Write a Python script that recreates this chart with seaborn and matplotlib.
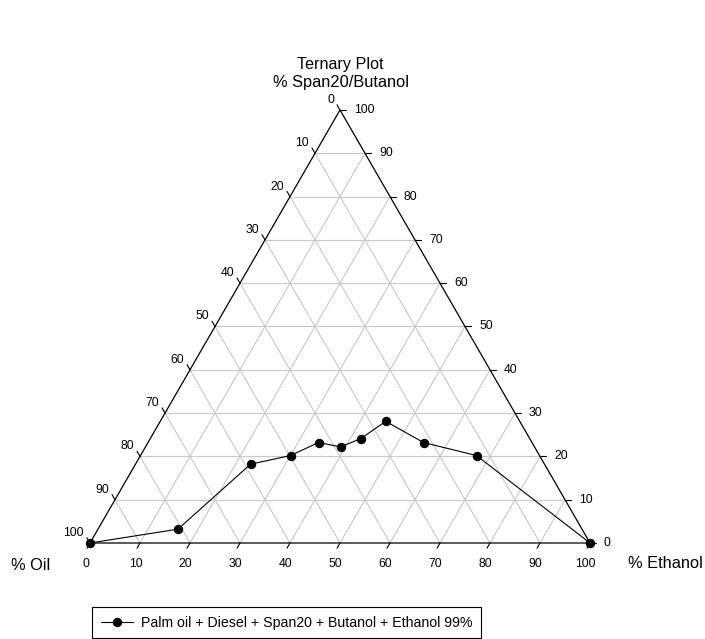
import numpy as np
import pandas as pd
import matplotlib
matplotlib.use("Agg")
import matplotlib.pyplot as plt
import seaborn as sns

sns.set_theme(style="white")
plt.rcParams["font.family"] = ["Liberation Sans", "DejaVu Sans"]
plt.rcParams["text.color"] = "black"

# Phase boundary composition (percent)
ethanol = [0.0, 16.0, 23.0, 30.0, 34.1, 39.0, 42.1, 45.1, 55.1, 67.2, 100.0]
span_butanol = [0.0, 3.2, 18.2, 20.2, 23.2, 22.2, 24.1, 28.1, 23.2, 20.2, 0.0]
oil = [100.0 - e - s for e, s in zip(ethanol, span_butanol)]
series_name = "Palm oil + Diesel + Span20 + Butanol + Ethanol 99%"
tick_values = list(range(0, 101, 10))

H = np.sqrt(3) / 2


def to_xy(e, s):
    """Ternary (ethanol, span) percent -> cartesian."""
    e = np.asarray(e, dtype=float)
    s = np.asarray(s, dtype=float)
    return e + s / 2.0, s * H


W, Hpx = 705, 639
fig = plt.figure(figsize=(W / 100, Hpx / 100), dpi=100)
ax = fig.add_axes([0, 0, 1, 1])
# 5 px per percent unit; triangle base from px 90 to 590 at py 543
ax.set_xlim(-90 / 5, (W - 90) / 5)
ax.set_ylim(-(Hpx - 543) / 5, 543 / 5)
ax.axis("off")

px = 1 / 5.0  # one pixel in data units

grid_kw = dict(color="#c8c8c8", lw=0.8, zorder=1)
for k in range(10, 100, 10):
    # constant span (horizontal)
    x, y = to_xy([0, 100 - k], [k, k])
    ax.plot(x, y, **grid_kw)
    # constant ethanol
    x, y = to_xy([k, k], [0, 100 - k])
    ax.plot(x, y, **grid_kw)
    # constant oil
    x, y = to_xy([0, 100 - k], [100 - k, 0])
    ax.plot(x, y, **grid_kw)

# triangle frame
x, y = to_xy([0, 100, 0, 0], [0, 0, 100, 0])
ax.plot(x, y, color="black", lw=0.9, zorder=2)

tick_len = 6 * px
tick_kw = dict(color="black", lw=0.8, zorder=2)
lab_fs = 8.7
for k in tick_values:
    # bottom axis: ethanol
    x0, y0 = to_xy(k, 0)
    ax.plot([x0, x0 - 0.5 * tick_len], [y0, y0 - H * tick_len], **tick_kw)
    ax.text(x0 - 4.5 * px, y0 - 21 * px, str(k), ha="center", va="center",
            fontsize=lab_fs)
    # right axis: span20/butanol
    x0, y0 = to_xy(100 - k, k)
    ax.plot([x0, x0 + tick_len], [y0, y0], **tick_kw)
    ax.text(x0 + 14 * px, y0, str(k), ha="left", va="center", fontsize=lab_fs)
    # left axis: oil
    x0, y0 = to_xy(0, 100 - k)
    ax.plot([x0, x0 - 0.5 * tick_len], [y0, y0 + H * tick_len], **tick_kw)
    ax.text(x0 - 6 * px, y0 + 10 * px, str(k), ha="right", va="center",
            fontsize=lab_fs)

cx, cy = to_xy(ethanol, span_butanol)
df = pd.DataFrame({"x": cx, "y": cy, "series": series_name})
sns.lineplot(data=df, x="x", y="y", hue="series", palette=["black"],
             sort=False, estimator=None, marker="o", markersize=6,
             markeredgecolor="black", linewidth=0.8, ax=ax, zorder=5)

# titles and axis names (positions in pixels)
def ptext(pxx, pyy, s, **kw):
    ax.text((pxx - 90) / 5, (543 - pyy) / 5, s, **kw)


ptext(340, 65, "Ternary Plot", ha="center", va="center", fontsize=11.6)
ptext(341, 83, "% Span20/Butanol", ha="center", va="center", fontsize=11.8)
ptext(31, 566, "% Oil", ha="center", va="center", fontsize=11.8)
ptext(665, 564, "% Ethanol", ha="center", va="center", fontsize=11.8)

leg = ax.legend(loc="upper left", bbox_to_anchor=(92 / W, 1 - 607 / Hpx),
                bbox_transform=fig.transFigure, borderaxespad=0,
                frameon=True, fancybox=False, edgecolor="black",
                framealpha=1, fontsize=10.2, borderpad=0.6,
                handlelength=2.3, handletextpad=0.55, title=None)
leg.get_frame().set_linewidth(0.8)

fig.savefig("out.png", dpi=100)
